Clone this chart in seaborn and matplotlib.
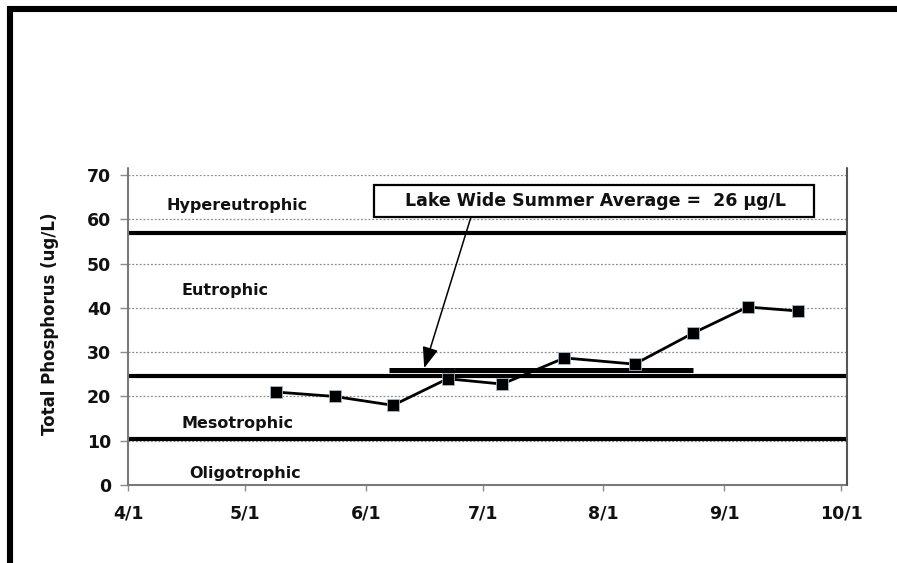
import pandas as pd
import seaborn as sns
import matplotlib.pyplot as plt
import matplotlib.dates as mdates
from matplotlib.lines import Line2D
from matplotlib.patches import Rectangle
from matplotlib.ticker import FuncFormatter

# ---------------------------------------------------------------
# data
# ---------------------------------------------------------------
YEAR = 2010
sample_dates = ["5/9", "5/24", "6/8", "6/22", "7/6", "7/22", "8/9", "8/24", "9/7", "9/20"]
total_p      = [21.0, 20.0, 18.0, 24.0, 22.8, 28.7, 27.3, 34.3, 40.2, 39.3]

trophic_names   = ["Hypereutrophic", "Eutrophic", "Mesotrophic", "Oligotrophic"]
trophic_bounds  = [57.0, 24.7, 10.5]
summer_avg      = 26
avg_span        = ["6/7", "8/24"]
month_ticks     = ["4/1", "5/1", "6/1", "7/1", "8/1", "9/1", "10/1"]
y_ticks         = [0, 10, 20, 30, 40, 50, 60, 70]

# label / annotation placement
trophic_label_x = ["4/29", "4/26", "4/29", "5/1"]
trophic_label_y = [63.2, 44.0, 14.0, 2.7]


def to_date(md):
    m, d = md.split("/")
    return pd.Timestamp(YEAR, int(m), int(d))


df = pd.DataFrame({"date": [to_date(s) for s in sample_dates], "tp": total_p})

sns.set_style("white")
plt.rcParams["font.family"] = ["DejaVu Sans"]
plt.rcParams["font.weight"] = "bold"

fig = plt.figure(figsize=(8.97, 5.63), dpi=100)
ax = fig.add_axes([0.1427, 0.1385, 0.8016, 0.5506])

x0 = to_date("4/1")
x1 = to_date("10/2") + pd.Timedelta(hours=12)
ax.set_xlim(x0, x1)
ax.set_ylim(0, 70)

# dotted gridlines
for yv in y_ticks[1:]:
    ax.axhline(yv, color="#8c8c8c", lw=0.9, ls=(0, (1.5, 1.5)), zorder=1)

# trophic state boundaries
for b in trophic_bounds:
    ax.axhline(b, color="black", lw=3.0, zorder=2)

# trophic labels
for name, lx, ly in zip(trophic_names, trophic_label_x, trophic_label_y):
    ax.text(to_date(lx), ly, name, ha="center", va="center",
            fontsize=11.5, fontweight="bold", color="#111111", zorder=3)

# summer average bar
ax.plot([to_date(avg_span[0]), to_date(avg_span[1])], [summer_avg, summer_avg],
        color="black", lw=3.6, solid_capstyle="butt", zorder=3)

# the data series
sns.lineplot(data=df, x="date", y="tp", ax=ax, color="black", lw=2.0,
             marker="s", markersize=9, markeredgecolor="#9fbbd0",
             markeredgewidth=0.6, zorder=5)

# annotation box + arrow
box_l, box_r = mdates.date2num(to_date("6/3")), mdates.date2num(to_date("9/24"))
ax.add_patch(Rectangle((box_l, 60.5), box_r - box_l, 7.2, facecolor="white",
                       edgecolor="black", lw=1.6, zorder=6))
ax.text(to_date("7/30"), 64.1, f"Lake Wide Summer Average =  {summer_avg} \u00b5g/L",
        ha="center", va="center", fontsize=12.5, fontweight="bold",
        color="#111111", zorder=7)
ax.annotate("", xy=(to_date("6/16"), 26.4), xytext=(to_date("6/28"), 60.5),
            arrowprops=dict(arrowstyle="-|>,head_width=0.3,head_length=0.8",
                            color="black", lw=1.1,
                            mutation_scale=16, shrinkA=0, shrinkB=0),
            zorder=6)

# axes styling
ax.set_xticks([to_date(t) for t in month_ticks])
ax.xaxis.set_major_formatter(FuncFormatter(
    lambda v, p: f"{mdates.num2date(v).month}/{mdates.num2date(v).day}"))
ax.set_yticks(y_ticks)
ax.tick_params(axis="y", length=6, width=1, color="#8c8c8c", direction="out",
               labelsize=12.5, pad=6, left=True)
ax.tick_params(axis="x", length=4, width=1, color="#8c8c8c", direction="out",
               labelsize=12.5, pad=10, bottom=True)
for lab in ax.get_xticklabels() + ax.get_yticklabels():
    lab.set_fontweight("bold")
    lab.set_color("#111111")

ax.spines["top"].set_visible(False)
ax.spines["right"].set_visible(False)
ax.spines["left"].set_visible(False)
ax.spines["bottom"].set_color("#7a7a7a")
ax.spines["bottom"].set_linewidth(1.5)
ax.axvline(x0, ymin=0, ymax=1.023, color="#7a7a7a", lw=1.5, clip_on=False, zorder=4)
ax.axvline(x1, ymin=0, ymax=1.023, color="#555555", lw=1.5, clip_on=False, zorder=4)

ax.set_xlabel("")
ax.set_ylabel("Total Phosphorus (ug/L)", fontsize=12, fontweight="bold",
              color="#111111")
ax.yaxis.set_label_coords(-0.096, 0.52)

# black frame along top and left edges
fig.add_artist(Line2D([7 / 897, 1.0], [1 - 9 / 563, 1 - 9 / 563],
                      transform=fig.transFigure, color="black", lw=4.4,
                      solid_capstyle="butt"))
fig.add_artist(Line2D([10 / 897, 10 / 897], [1 - 6 / 563, 0.0],
                      transform=fig.transFigure, color="black", lw=4.4,
                      solid_capstyle="butt"))

fig.savefig("out.png", dpi=100, facecolor="white")
